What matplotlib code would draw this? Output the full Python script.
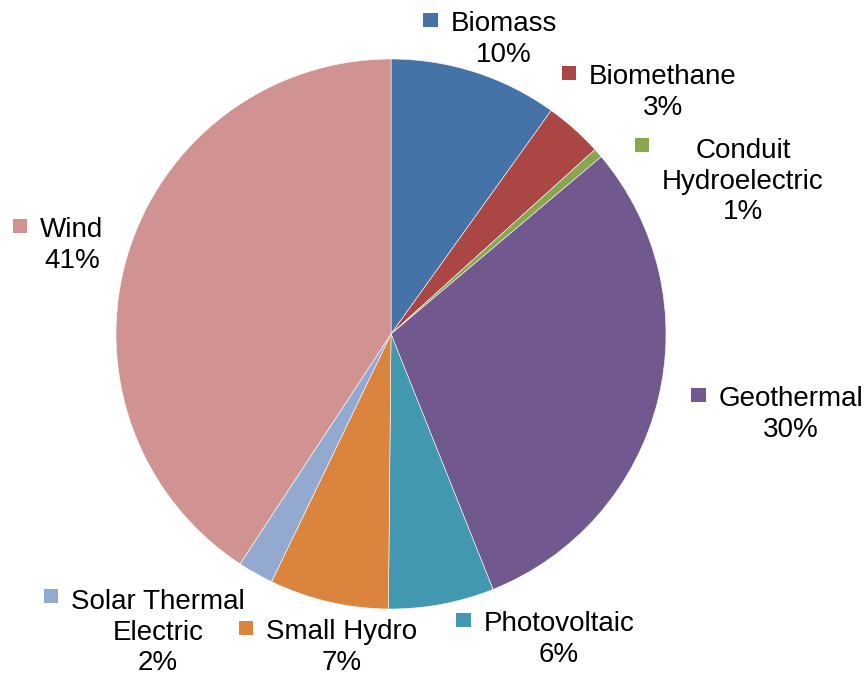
import matplotlib
matplotlib.use("Agg")
import matplotlib.pyplot as plt
from matplotlib.patches import Rectangle

# data (percent of capacity)
sources = ["Biomass", "Biomethane", "Conduit\nHydroelectric", "Geothermal",
           "Photovoltaic", "Small Hydro", "Solar Thermal\nElectric", "Wind"]
shares = [9.9, 3.4, 0.55, 30.1, 6.2, 7.0, 2.1, 40.75]
colors = ["#4572A7", "#AA4643", "#89A54E", "#71588F",
          "#4198AF", "#DB843D", "#93A9CF", "#D19392"]

# label layout in pixels from top-left: block centre x, first-line baseline y
label_x = [504, 663, 743, 791, 559, 342, 158, 72]
label_y = [30, 83, 155, 405, 630, 638, 606, 236]

W, H = 868, 677
GAP = 32.2  # px between text baselines
plt.rcParams['font.family'] = ['Liberation Sans', 'DejaVu Sans']

fig = plt.figure(figsize=(W / 100, H / 100), dpi=100)
ax = fig.add_axes([0, 0, 1, 1])

ax.pie(shares, colors=colors, startangle=90, counterclock=False,
       center=(391, H - 334), radius=275,
       wedgeprops=dict(edgecolor="white", linewidth=0.4))
ax.set_xlim(0, W)
ax.set_ylim(0, H)
ax.set_aspect("equal")
ax.axis("off")

texts = []
for name, v, x, y in zip(sources, shares, label_x, label_y):
    s = f"{name}\n{round(v):.0f}%"
    last = y + GAP * s.count("\n")
    t = ax.text(x, H - last, s, ha="center", va="baseline",
                multialignment="center", fontsize=20, color="black",
                linespacing=1.24)
    texts.append(t)

fig.canvas.draw()
r = fig.canvas.get_renderer()
for t, c, y in zip(texts, colors, label_y):
    bb = t.get_window_extent(renderer=r)
    sq = 14.5
    ax.add_patch(Rectangle((bb.x0 - 13 - sq, H - y + 2.8), sq, sq,
                           facecolor=c, edgecolor="none"))

fig.savefig("out.png", dpi=100, facecolor="white")
